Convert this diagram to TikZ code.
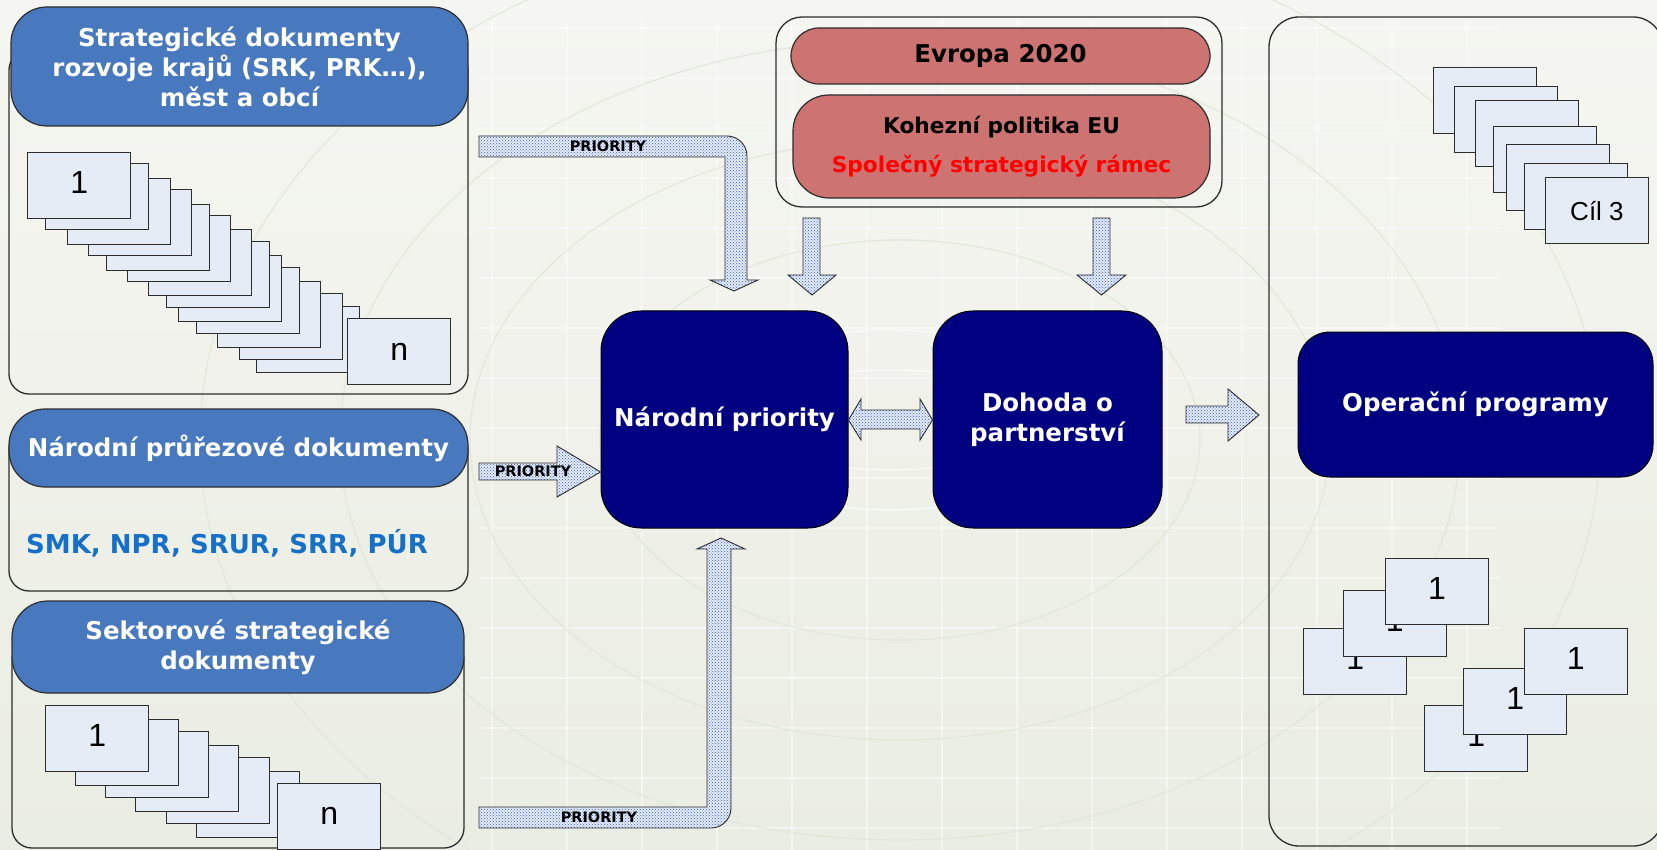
\documentclass[tikz,border=0pt]{standalone}
\usepackage{fontspec}
\setmainfont{DejaVu Sans}
\newfontfamily\arialf{Liberation Sans}
\usetikzlibrary{patterns}
\newcommand{\cardtxt}[1]{\raisebox{3pt}[\height][\depth]{#1}}
\definecolor{bgtop}{RGB}{245,246,241}
\definecolor{bgbot}{RGB}{234,237,227}
\definecolor{hdrblue}{RGB}{72,120,190}
\definecolor{navyb}{RGB}{0,0,128}
\definecolor{salmon}{RGB}{205,115,113}
\definecolor{cardfill}{RGB}{230,236,246}
\definecolor{smkblue}{RGB}{22,112,200}
\definecolor{arrowdot}{RGB}{55,95,200}
\definecolor{arrowbg}{RGB}{228,235,247}
\definecolor{decoline}{RGB}{222,231,213}
\definecolor{outl}{RGB}{45,45,45}
\begin{document}
\begin{tikzpicture}[x=1pt,y=-1pt,
  container/.style={draw=outl, line width=1.3pt, rounded corners=20pt, inner sep=0pt},
  header/.style={fill=hdrblue, draw=outl, line width=1.2pt, rounded corners=36pt, text=white,
    font=\fontsize{24.5}{30}\selectfont\bfseries, align=center, inner sep=0pt},
  bigbox/.style={fill=navyb, draw=black, line width=1pt, rounded corners=40pt, text=white,
    font=\fontsize{24.5}{30}\selectfont\bfseries, align=center, inner sep=0pt},
  eubox/.style={fill=salmon, draw=outl, line width=1.2pt, align=center, inner sep=0pt},
  card/.style={draw=outl, line width=0.9pt, fill=cardfill, minimum width=103pt, minimum height=66pt,
    inner sep=0pt, anchor=north west, font=\arialf\fontsize{32}{32}\selectfont},
  barrow/.style={draw=outl, line width=0.9pt, preaction={fill=arrowbg}, pattern=crosshatch dots, pattern color=arrowdot},
  plabel/.style={font=\fontsize{14.5}{15}\selectfont\bfseries, inner sep=0pt},
  grid line/.style={draw=white, line width=1.5pt, opacity=0.45},
  arcline/.style={draw=decoline, line width=1.3pt, opacity=0.8}
]
\useasboundingbox (0,0) rectangle (1657,850);
% background
\fill[top color=bgtop, bottom color=bgbot] (0,0) rectangle (1657,850);
\foreach \gx in {492,567,642,717,792,867,942,1017,1092,1167,1242,1317,1392,1467}
  \draw[grid line] (\gx,20) -- (\gx,850);
\foreach \gy in {28,78,128,178,228,278,328,378,428,478,528,578,628,678,728,778,828}
  \draw[grid line] (480,\gy) -- (1500,\gy);
\draw[arcline] (900,440) ellipse [x radius=430, y radius=300];
\draw[arcline] (900,440) ellipse [x radius=560, y radius=400];
\draw[arcline] (900,440) ellipse [x radius=700, y radius=520];
\draw[arcline] (900,440) ellipse [x radius=300, y radius=200];
\draw[draw=white, line width=1.2pt, opacity=0.7] (890,420) ellipse [x radius=190, y radius=90];
\draw[draw=white, line width=1.2pt, opacity=0.7] (890,420) ellipse [x radius=150, y radius=50];

% left group 1
\node[container, minimum width=459pt, minimum height=344pt] (c1) at (238.5,222) {};
\node[header, minimum width=457pt, minimum height=119pt] (h1) at (239.5,66.5)
  {Strategické dokumenty\\rozvoje krajů (SRK, PRK…),\\měst a obcí};
\foreach \i/\x/\y in {13/256.3/306.3,12/238.7/292.7,11/217.3/281,10/196.3/266.7,9/178.3/255,
  8/165.7/240.7,7/147.7/229,6/126.7/215.3,5/105.7/203.7,4/87.7/189,3/66.7/177.7,2/45.3/163.3}
  \node[card] (sa\i) at (\x,\y) {};
\node[card] (sa1) at (27.3,151.7) {\cardtxt{1}};
\node[card] (san) at (347.3,318.3) {n};

% left group 2
\node[container, minimum width=459pt, minimum height=161pt] (c2) at (238.5,510.5) {};
\node[header, minimum width=459pt, minimum height=78pt, rounded corners=36pt] (h2) at (238.5,448)
  {Národní průřezové dokumenty};
\node[anchor=base west, inner sep=0pt, text=smkblue, font=\fontsize{26}{26}\selectfont\bfseries] (smk) at (26,553)
  {SMK, NPR, SRUR, SRR, PÚR};

% left group 3
\node[container, minimum width=452pt, minimum height=208pt] (c3) at (238,744) {};
\node[header, minimum width=452pt, minimum height=92pt] (h3) at (238,647)
  {Sektorové strategické\\dokumenty};
\foreach \i/\x/\y in {6/196/771,5/165.7/757,4/135.3/745.3,3/105.3/731.3,2/75.3/719.3}
  \node[card] (sc\i) at (\x,\y) {};
\node[card] (sc1) at (45.3,705.3) {\cardtxt{1}};
\node[card] (scn) at (277.3,782.7) {n};

% EU group
\node[container, rounded corners=26pt, minimum width=446pt, minimum height=190pt] (euc) at (999,112) {};
\node[eubox, rounded corners=28pt, minimum width=419pt, minimum height=56pt,
  font=\fontsize{24.5}{30}\selectfont\bfseries] (evr) at (1000.5,56) {Evropa 2020};
\node[eubox, rounded corners=36pt, minimum width=417pt, minimum height=103pt,
  font=\fontsize{21.7}{39}\selectfont\bfseries] (koh) at (1001.5,146.5)
  {Kohezní politika EU\\\textcolor{red}{Společný strategický rámec}};

% right container
\node[container, rounded corners=30pt, minimum width=394pt, minimum height=829pt] (rc) at (1466,431.5) {};

% main boxes
\node[bigbox, minimum width=247pt, minimum height=217pt] (np) at (724.5,419.5) {Národní priority};
\node[bigbox, minimum width=229pt, minimum height=217pt] (dp) at (1047.5,419.5) {Dohoda o\\partnerství};
\node[bigbox, rounded corners=32pt, minimum width=355pt, minimum height=145pt] (op) at (1475.5,404.5) {Operační programy};

% top-right stack
\foreach \i/\x/\y in {1/1433.3/66.7,2/1454.3/85.7,3/1475.3/99.7,4/1493.3/125.7,5/1505.7/144.3,6/1523.7/163.3}
  \node[card] (tr\i) at (\x,\y) {};
\node[card, font=\arialf\fontsize{26}{26}\selectfont] (tr7) at (1545,177.3) {Cíl 3};

% bottom-right groups
\node[card] (ra1) at (1303.3,627.7) {\cardtxt{1}};
\node[card] (ra2) at (1342.7,590.3) {\cardtxt{1}};
\node[card] (ra3) at (1385,557.7) {\cardtxt{1}};
\node[card] (rb1) at (1424.3,705.3) {\cardtxt{1}};
\node[card] (rb2) at (1463.3,667.7) {\cardtxt{1}};
\node[card] (rb3) at (1523.7,627.7) {\cardtxt{1}};

% arrows
% top bent PRIORITY arrow
\draw[barrow] (479,136) -- (727,136) arc[start angle=-90, end angle=0, radius=20] -- (747,280)
  -- (758,280) -- (734,291) -- (710,280) -- (725,280) -- (725,157) -- (479,157) -- cycle;
\node[plabel] (pl1) at (608,146) {PRIORITY};
% middle PRIORITY arrow
\draw[barrow] (479,463) -- (557,463) -- (557,446) -- (np.west |- 0,472) -- (557,497) -- (557,480) -- (479,480) -- cycle;
\node[plabel] (pl2) at (533,471) {PRIORITY};
% bottom bent PRIORITY arrow
\draw[barrow] (479,807) -- (707,807) -- (707,549) -- (697,549) -- (721,538) -- (745,549) -- (731,549)
  -- (731,808) arc[start angle=0, end angle=90, radius=20] -- (479,828) -- cycle;
\node[plabel] (pl3) at (599,817) {PRIORITY};
% down arrows from EU
\draw[barrow] (803,218) -- (820,218) -- (820,275) -- (836,275) -- (812,295) -- (788,275) -- (803,275) -- cycle;
\draw[barrow] (1093,218) -- (1110,218) -- (1110,275) -- (1126,275) -- (1101.5,295) -- (1077,275) -- (1093,275) -- cycle;
% double arrow
\draw[barrow] (np.east |- 0,420) -- (861,399) -- (861,410) -- (920,410) -- (920,399) -- (dp.west |- 0,420)
  -- (920,440) -- (920,429) -- (861,429) -- (861,440) -- cycle;
% arrow to operational programmes
\draw[barrow] (1186,406) -- (1228,406) -- (1228,389) -- (1259,415) -- (1228,441) -- (1228,423) -- (1186,423) -- cycle;
\end{tikzpicture}
\end{document}
